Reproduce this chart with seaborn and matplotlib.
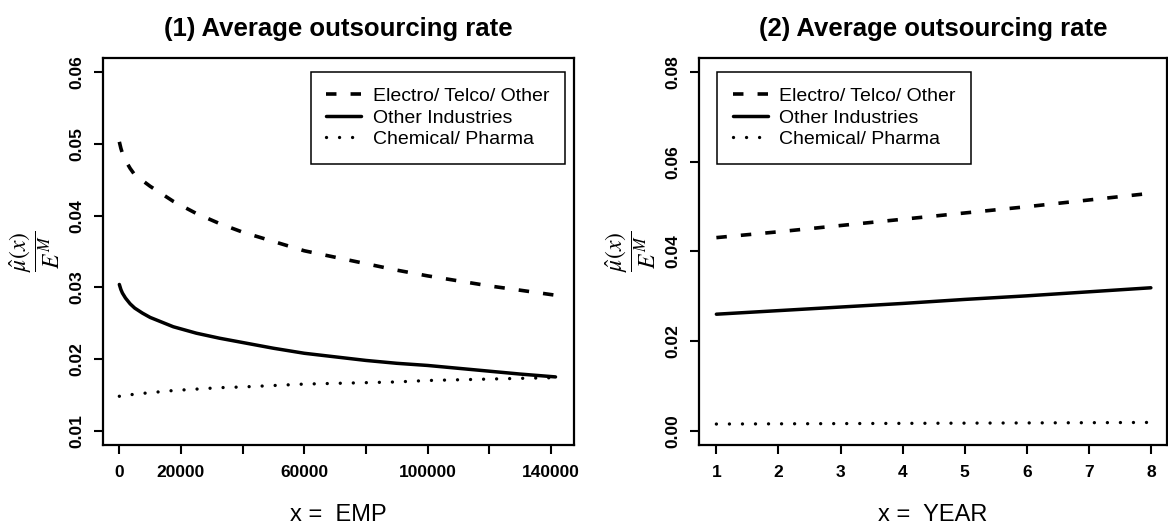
import matplotlib
matplotlib.use("Agg")
import matplotlib.pyplot as plt
import numpy as np
import pandas as pd
import seaborn as sns

sns.set_style("ticks")
plt.rcParams["font.family"] = ["Liberation Sans", "DejaVu Sans"]
plt.rcParams["mathtext.fontset"] = "stix"
plt.rcParams["text.color"] = "black"
plt.rcParams["axes.labelcolor"] = "black"

# panel (1): rate vs employment
EMP = [0, 500, 1000, 2000, 3500, 5000, 7500, 10000, 17500, 25000, 32500, 40000, 50000, 60000,
       70000, 80000, 90000, 100000, 110000, 120000, 130000, 141500]
EMP_ELECTRO = [0.0503, 0.0494, 0.0487, 0.0477, 0.0466, 0.0457, 0.0449, 0.0441, 0.0420, 0.0403,
               0.0389, 0.0377, 0.0364, 0.0351, 0.0342, 0.0333, 0.0324, 0.0316, 0.0309, 0.0302,
               0.0296, 0.0289]
EMP_OTHER = [0.0304, 0.0297, 0.0292, 0.0285, 0.0277, 0.0271, 0.0264, 0.0258, 0.0245, 0.0236,
             0.0229, 0.0223, 0.0215, 0.0208, 0.0203, 0.0198, 0.0194, 0.0191, 0.0187, 0.0183,
             0.0179, 0.0175]
EMP_CHEM = [0.0148, 0.0148, 0.0149, 0.0150, 0.0150, 0.0151, 0.0152, 0.0153, 0.0156, 0.0158,
            0.0160, 0.0161, 0.0163, 0.0165, 0.0166, 0.0167, 0.0168, 0.0170, 0.0171, 0.0172,
            0.0173, 0.0174]

# panel (2): rate vs year
YEAR = [1, 2, 3, 4, 5, 6, 7, 8]
YEAR_ELECTRO = [0.0431, 0.0444, 0.0458, 0.0472, 0.0486, 0.0500, 0.0515, 0.0530]
YEAR_OTHER = [0.0260, 0.0268, 0.0276, 0.0284, 0.0293, 0.0301, 0.0310, 0.0319]
YEAR_CHEM = [0.00148, 0.00153, 0.00158, 0.00163, 0.00168, 0.00173, 0.00178, 0.00184]

SERIES = ["Electro/ Telco/ Other", "Other Industries", "Chemical/ Pharma"]
LINE_KW = {
    "Electro/ Telco/ Other": dict(lw=2.6, linestyle=(0, (2.9, 3.9)), dash_capstyle="butt"),
    "Other Industries": dict(lw=2.5, linestyle="-"),
    "Chemical/ Pharma": dict(lw=2.4, linestyle=(0, (0.01, 3.9)), dash_capstyle="round"),
}

W, H = 1168, 528
fig = plt.figure(figsize=(W / 100, H / 100), dpi=100)
ax1 = fig.add_axes([103 / W, 1 - 445 / H, 471 / W, 387 / H])
ax2 = fig.add_axes([699 / W, 1 - 445 / H, 468 / W, 387 / H])


def draw(ax, x, ys, xlabel, title):
    for name, y in zip(SERIES, ys):
        df = pd.DataFrame({"x": x, "y": y})
        sns.lineplot(data=df, x="x", y="y", ax=ax, color="black", label=name,
                     estimator=None, sort=False, **LINE_KW[name])
    for s in ax.spines.values():
        s.set_visible(True)
        s.set_linewidth(1.6)
        s.set_color("black")
    ax.tick_params(axis="both", direction="out", length=6.5, width=1.5, colors="black",
                   labelsize=12.5)
    ax.tick_params(axis="x", pad=8)
    ax.tick_params(axis="y", pad=7)
    for lab in ax.get_xticklabels() + ax.get_yticklabels():
        lab.set_fontweight("bold")
    for lab in ax.get_yticklabels():
        lab.set_rotation(90)
        lab.set_va("center")
    ax.set_xlabel("")
    ax.set_ylabel(r"$\dfrac{\hat{\mu}(x)}{E^M}$", fontsize=17, labelpad=5)
    ax.set_title(title, fontsize=18.5, fontweight="bold", pad=16, color="black")
    cx = (ax.get_position().x0 + ax.get_position().x1) / 2
    fig.text(cx, 1 - 521 / H, xlabel, ha="center", va="baseline", fontsize=17)


ax1.set_xlim(-5300, 147500)
ax1.set_ylim(0.008, 0.062)
ax1.set_xticks(np.arange(0, 140001, 20000))
ax1.set_xticklabels(["0", "20000", "", "60000", "", "100000", "", "140000"])
ax1.set_yticks([0.01, 0.02, 0.03, 0.04, 0.05, 0.06])
ax1.set_yticklabels(["0.01", "0.02", "0.03", "0.04", "0.05", "0.06"])
draw(ax1, EMP, [EMP_ELECTRO, EMP_OTHER, EMP_CHEM], "x =  EMP", "(1) Average outsourcing rate")

ax2.set_xlim(0.72, 8.26)
ax2.set_ylim(-0.0032, 0.0832)
ax2.set_xticks(YEAR)
ax2.set_xticklabels([str(v) for v in YEAR])
ax2.set_yticks([0.0, 0.02, 0.04, 0.06, 0.08])
ax2.set_yticklabels(["0.00", "0.02", "0.04", "0.06", "0.08"])
draw(ax2, YEAR, [YEAR_ELECTRO, YEAR_OTHER, YEAR_CHEM], "x =  YEAR", "(2) Average outsourcing rate")

leg_kw = dict(fontsize=14, frameon=True, fancybox=False, framealpha=1, edgecolor="black",
              handlelength=1.8, handletextpad=0.6, labelspacing=0.2, borderpad=0.8,
              borderaxespad=0)
l1 = ax1.legend(loc="upper right", bbox_to_anchor=(565 / W, 1 - 72 / H),
                bbox_transform=fig.transFigure, **leg_kw)
l2 = ax2.legend(loc="upper left", bbox_to_anchor=(717 / W, 1 - 72 / H),
                bbox_transform=fig.transFigure, **leg_kw)
for leg in (l1, l2):
    leg.get_frame().set_linewidth(1.1)
    for t in leg.get_texts():
        t.set_color("black")

fig.savefig("out.png", dpi=100)
